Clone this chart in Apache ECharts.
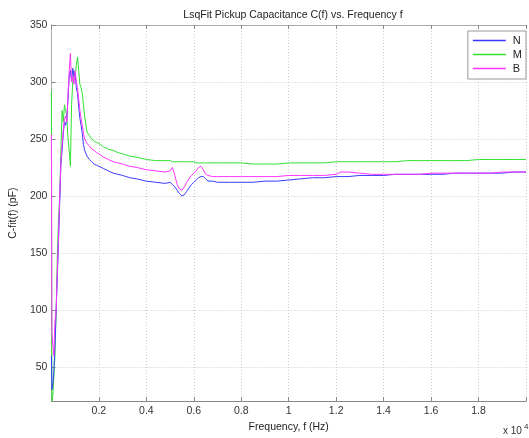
<!DOCTYPE html>
<html><head><meta charset="utf-8">
<script src="https://cdn.jsdelivr.net/npm/echarts@6/dist/echarts.min.js"></script>
<style>html,body{margin:0;padding:0;background:#fff}#c{width:529px;height:438px}</style>
</head><body><div id="c"></div>
<script>
const freq = [0,20,60,100,150,200,250,300,350,400,450,500,550,600,650,700,750,800,850,900,950,1000,1050,1100,1150,1200,1250,1300,1350,1400,1500,1600,1700,1800,1900,2000,2200,2400,2600,2800,3000,3300,3600,4000,4400,4800,5000,5100,5200,5300,5400,5500,5600,5700,5800,5900,6000,6100,6200,6300,6400,6500,6600,6800,7000,7500,8000,8500,9000,9500,10000,10500,11000,11500,12000,12200,12500,13000,13500,14000,14500,15000,15500,16000,16500,17000,17500,18000,18500,19000,19500,20000];
const seriesN = [60,30,35,45,70,100,130,160,195,228,240,255,265,262,268,285,305,310,300,312,305,308,295,290,278,268,262,255,245,240,235,232,230,228,227,226,224,222,220,219,218,216,215,213,212,211,212,210,208,205,202,200,201,204,207,210,212,214,216,217,217,215,213,213,212,212,212,212,213,213,214,215,216,216,217,217,217,218,218,218,219,219,219,219,219,220,220,220,220,220,221,221];
const seriesM = [292,20,25,40,60,100,150,180,200,240,275,265,280,275,270,250,240,226,280,300,310,305,315,322,310,298,295,290,280,270,256,253,250,248,247,246,243,241,240,238,237,235,234,232,231,231,231,230,230,230,230,230,230,230,230,230,230,229,229,229,229,229,229,229,229,229,229,228,228,228,229,229,229,229,230,230,230,230,230,230,230,231,231,231,231,231,231,232,232,232,232,232];
const seriesB = [254,80,70,60,90,100,135,165,200,230,245,258,268,270,265,290,310,325,300,305,298,310,300,295,285,275,268,262,255,250,246,244,241,240,238,237,234,232,230,229,228,226,225,223,222,221,222,225,218,210,206,205,208,212,215,218,220,222,225,226,223,219,218,217,217,217,217,217,217,217,218,218,218,218,219,221,221,220,219,219,219,219,219,220,220,220,220,220,220,221,221,221];
const yTicks = [50,100,150,200,250,300,350];
const names = ['N','M','B'];
const colors = ['#3a3aff','#33e033','#ff33ff'];

const chart = echarts.init(document.getElementById('c'));
const mk = (arr) => freq.map((f,i)=>[f,arr[i]]);
const font = 'Liberation Sans, Arial, sans-serif';
const grid = {left:47, right:1, top:25, bottom:31};
chart.setOption({
  animation:false,
  title:{text:'LsqFit Pickup Capacitance C(f) vs. Frequency f', left:288, textAlign:'center', top:5,
    textStyle:{fontSize:10.5, fontWeight:'normal', color:'#222', fontFamily:font}},
  grid:grid,
  legend:{data:names.map(n=>({name:n, icon:'rect'})), orient:'vertical', right:3, top:31, itemWidth:33, itemHeight:1.5, itemGap:3,
    backgroundColor:'#fff', borderColor:'#999', borderWidth:1, padding:[4,4,5,5], borderRadius:0,
    textStyle:{fontSize:11, color:'#222', fontFamily:font, padding:[0,0,0,2]}},
  xAxis:[{type:'value', min:0, max:20000, interval:2000,
    name:'Frequency, f (Hz)', nameLocation:'middle', nameGap:16,
    nameTextStyle:{fontSize:10.5, color:'#222', fontFamily:font},
    axisLine:{show:true, lineStyle:{color:'#888'}},
    axisTick:{inside:true, length:4, lineStyle:{color:'#888'}},
    axisLabel:{fontSize:10.5, color:'#333', fontFamily:font, margin:5,
      formatter:v=> (v===0||v===20000)?'':String(+(v/10000).toFixed(1))},
    splitLine:{show:true, lineStyle:{color:'#ccc', type:[1,2]}}},
   {type:'value', position:'top', min:0, max:20000, interval:2000,
    axisLine:{show:true, lineStyle:{color:'#aaa'}}, axisTick:{inside:true, length:4, lineStyle:{color:'#888'}},
    axisLabel:{show:false}, splitLine:{show:false}}],
  yAxis:[{type:'value', min:20, max:350,
    name:'C-fit(f) (pF)', nameLocation:'middle', nameGap:27, nameRotate:90,
    nameTextStyle:{fontSize:10.5, color:'#222', fontFamily:font},
    axisLine:{show:true, lineStyle:{color:'#aaa'}},
    axisTick:{inside:true, length:4, customValues:yTicks, lineStyle:{color:'#888'}},
    axisLabel:{fontSize:10.5, color:'#333', fontFamily:font, margin:4, customValues:yTicks},
    splitLine:{show:true, customValues:yTicks, lineStyle:{color:'#ccc', type:[1,2]}}},
   {type:'value', position:'right', min:20, max:350,
    axisLine:{show:true, lineStyle:{color:'#aaa'}}, axisTick:{show:false}, axisLabel:{show:false}, splitLine:{show:false}}],
  series: names.map((n,k)=>({name:n, type:'line', data:mk([seriesN,seriesM,seriesB][k]), showSymbol:false, symbol:'none',
    lineStyle:{width:1, color:colors[k]}, itemStyle:{color:colors[k]}, z:[3,2,4][k]})),
  graphic:[{type:'text', left:503, top:426, style:{text:'x 10', fontSize:10, fill:'#333', fontFamily:font}},
           {type:'text', left:524, top:423, style:{text:'4', fontSize:8, fill:'#333', fontFamily:font}}]
});
</script></body></html>
